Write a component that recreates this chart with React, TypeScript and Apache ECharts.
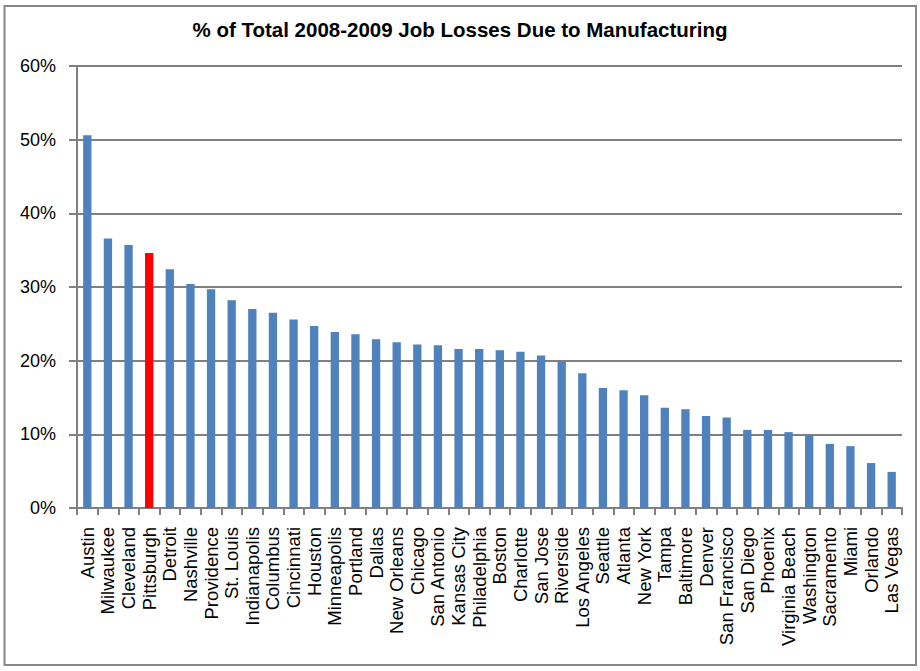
import React, { useEffect, useRef } from "react";
import * as echarts from "echarts";

const TITLE = "% of Total 2008-2009 Job Losses Due to Manufacturing";

const cities = [
  "Austin", "Milwaukee", "Cleveland", "Pittsburgh", "Detroit", "Nashville", "Providence", "St. Louis",
  "Indianapolis", "Columbus", "Cincinnati", "Houston", "Minneapolis", "Portland", "Dallas", "New Orleans",
  "Chicago", "San Antonio", "Kansas City", "Philadelphia", "Boston", "Charlotte", "San Jose", "Riverside",
  "Los Angeles", "Seattle", "Atlanta", "New York", "Tampa", "Baltimore", "Denver", "San Francisco",
  "San Diego", "Phoenix", "Virginia Beach", "Washington", "Sacramento", "Miami", "Orlando", "Las Vegas",
];

const shares = [
  50.6, 36.6, 35.7, 34.6, 32.4, 30.4, 29.7, 28.2,
  27.0, 26.5, 25.6, 24.7, 23.9, 23.6, 22.9, 22.5,
  22.2, 22.1, 21.6, 21.6, 21.4, 21.2, 20.7, 19.9,
  18.3, 16.3, 16.0, 15.3, 13.6, 13.4, 12.5, 12.3,
  10.6, 10.6, 10.3, 9.9, 8.7, 8.4, 6.1, 4.9,
];

const highlighted = ["Pittsburgh"];

const Y_MIN = 0;
const Y_MAX = 60;
const Y_STEP = 10;

export default function App() {
  const ref = useRef<HTMLDivElement>(null);

  useEffect(() => {
    document.body.style.margin = "0";
    if (!ref.current) return;
    const chart = echarts.init(ref.current, null, { renderer: "svg" });
    const font = "Liberation Sans, Arial, sans-serif";
    const axisGray = "#808080";
    chart.setOption({
      animation: false,
      backgroundColor: "#ffffff",
      textStyle: { fontFamily: font },
      title: {
        text: TITLE,
        left: "center",
        top: 14,
        textStyle: { fontFamily: font, fontSize: 20.5, fontWeight: "bold", color: "#000000" },
      },
      graphic: [
        {
          type: "rect",
          shape: { x: 4.5, y: 6, width: 911.5, height: 659 },
          style: { fill: "none", stroke: "#888888", lineWidth: 2 },
          silent: true,
        },
      ],
      grid: { left: 77, right: 18, top: 66, bottom: 163, containLabel: false },
      xAxis: {
        type: "category",
        data: cities,
        boundaryGap: true,
        axisLine: { show: true, lineStyle: { color: axisGray, width: 2 } },
        axisTick: { show: true, length: 7, interval: 0, lineStyle: { color: axisGray, width: 2 } },
        axisLabel: {
          interval: 0,
          rotate: 90,
          margin: 19,
          fontFamily: font,
          fontSize: 18.5,
          color: "#000000",
        },
      },
      yAxis: {
        type: "value",
        min: Y_MIN,
        max: Y_MAX,
        interval: Y_STEP,
        axisLine: { show: true, lineStyle: { color: axisGray, width: 2 } },
        axisTick: { show: true, length: 8, lineStyle: { color: axisGray, width: 2 } },
        splitLine: { show: true, lineStyle: { color: axisGray, width: 2 } },
        axisLabel: {
          formatter: "{value}%",
          margin: 21,
          fontFamily: font,
          fontSize: 18,
          color: "#000000",
        },
      },
      series: [
        {
          type: "bar",
          barWidth: 8.3,
          data: shares.map((v, i) => ({
            value: v,
            itemStyle: { color: highlighted.includes(cities[i]) ? "#FF0000" : "#4F81BD" },
          })),
        },
      ],
    });
    return () => chart.dispose();
  }, []);

  return <div ref={ref} style={{ position: "absolute", left: 0, top: 0, width: 920, height: 671 }} />;
}
